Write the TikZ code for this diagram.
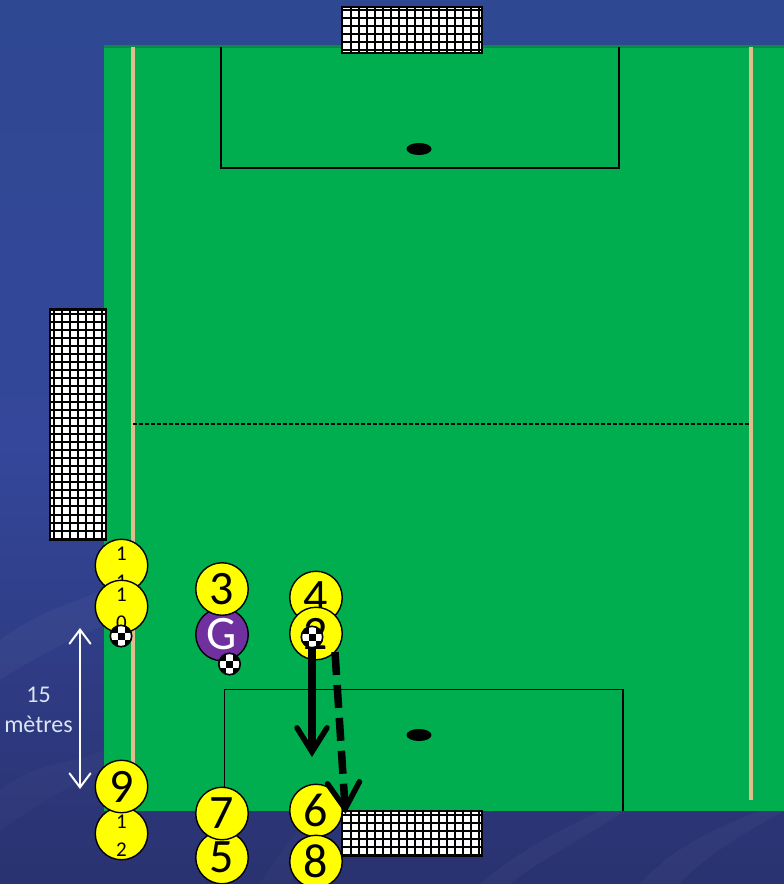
\documentclass[tikz,border=0pt]{standalone}
\usepackage{fontspec}
\setmainfont{Carlito}
\usetikzlibrary{arrows.meta,calc}
\definecolor{fieldgreen}{HTML}{00AE50}
\definecolor{edgegreen}{HTML}{0A8A48}
\definecolor{lineTan}{HTML}{E0BE8C}
\definecolor{bgtop}{HTML}{2F4892}
\definecolor{bgmid}{HTML}{34479A}
\definecolor{bgbot}{HTML}{2A3270}
\definecolor{playerY}{HTML}{FFFF00}
\definecolor{purpleG}{HTML}{7030A0}
\definecolor{pale}{HTML}{DCE4F5}
\newcommand{\lowstrut}{\rule{0pt}{17.5pt}}
\tikzset{
  x=1pt,y=-1pt,
  player/.style={circle,draw=black,line width=1.4pt,fill=playerY,minimum size=52.5pt,inner sep=0pt,text=black,font=\fontsize{48}{48}\selectfont},
  smallplayer/.style={player,font=\fontsize{21}{28}\selectfont,align=center},
  keeper/.style={player,fill=purpleG,text=white},
  fieldline/.style={black,line width=1.5pt},
  sideline/.style={lineTan,line width=3.4pt},
  netline/.style={black,line width=2pt},
  ballstyle/.style={circle,draw=black,line width=1pt,fill=white,minimum size=22pt,inner sep=0pt},
  passarrow/.style={black,line width=8pt,-{Straight Barb[length=24pt,width=30pt,line width=5.5pt,line cap=round]}},
  runarrow/.style={black,line width=7.5pt,dash pattern=on 23pt off 10pt,-{Straight Barb[length=26pt,width=32pt,line width=5.5pt,line cap=round]}},
  measure/.style={white,line width=2pt,{Straight Barb[length=14pt,width=21pt,line cap=round]}-{Straight Barb[length=14pt,width=21pt,line cap=round]}},
}
% goal: #1,#2 top-left; #3,#4 bottom-right; #5 first vertical x; #6 first horizontal y
\newcommand{\goalnet}[6]{%
  \fill[white] (#1,#2) rectangle (#3,#4);
  \begin{scope}
    \clip (#1,#2) rectangle (#3,#4);
    \foreach \k in {0,...,30}{
      \draw[netline] ({#5+8.02*\k},#2) -- ({#5+8.02*\k},#4);
      \draw[netline] (#1,{#6+8.02*\k}) -- (#3,{#6+8.02*\k});
    }
  \end{scope}
  \draw[black,line width=2.2pt] (#1,#2) rectangle (#3,#4);
}
\newcommand{\ballat}[2]{%
  \node[ballstyle] (#1) at (#2) {};
  \begin{scope}
    \clip (#2) circle (10.5);
    \foreach \i in {-2,...,2}{\foreach \j in {-2,...,2}{
      \pgfmathparse{int(mod(\i+\j+4,2))}
      \ifnum\pgfmathresult=0
        \fill[black] ($(#2)+(\i*7-3.5,\j*7-3.5)$) rectangle ++(7,7);
      \fi
    }}
  \end{scope}
  \draw[black,line width=1.2pt] (#2) circle (10.5);
}
\begin{document}
\begin{tikzpicture}
\useasboundingbox (0,0) rectangle (784,884);
\shade[top color=bgtop,bottom color=bgbot,middle color=bgmid] (0,0) rectangle (784,884);
% background streaks
\fill[white,opacity=.03] (0,640) .. controls (40,610) and (80,600) .. (104,590) -- (104,625) .. controls (70,640) and (30,660) .. (0,680) -- cycle;
\fill[white,opacity=.025] (0,790) .. controls (40,760) and (70,765) .. (104,750) -- (104,770) .. controls (60,790) and (30,810) .. (0,830) -- cycle;
\fill[white,opacity=.03] (480,884) .. controls (520,850) and (560,830) .. (600,811) -- (625,811) .. controls (580,840) and (540,860) .. (510,884) -- cycle;
\fill[white,opacity=.03] (640,884) .. controls (670,850) and (710,830) .. (760,811) -- (784,811) .. controls (740,835) and (700,860) .. (680,884) -- cycle;
\fill[white,opacity=.02] (260,884) .. controls (280,850) and (300,830) .. (310,811) -- (340,811) .. controls (320,840) and (300,860) .. (290,884) -- cycle;
% field
\fill[fieldgreen] (104,47) rectangle (784,811);
\draw[edgegreen,line width=3pt] (104,46.5) -- (784,46.5);
\draw[sideline] (133,47) -- (133,800);
\draw[sideline] (751,47) -- (751,800);
\draw[black,line width=1.2pt,dash pattern=on 4pt off 2pt] (133,424) -- (750,424);
% penalty areas
\draw[fieldline] (221,47) -- (221,168) -- (619,168) -- (619,47);
\draw[fieldline] (224.5,811) -- (224.5,689.5) -- (623,689.5) -- (623,811);
\fill[black] (419,149) ellipse (12.5 and 6);
\fill[black] (419,735) ellipse (12.5 and 6);
% goals
\goalnet{342}{7}{482}{53}{351}{10}
\goalnet{50}{309.5}{106}{539.5}{54.3}{314}
\goalnet{342}{811}{482}{856}{351}{815}
% measure
\coordinate (mtop) at (80,628);
\coordinate (mbot) at (80,789);
\draw[measure] (mtop) -- (mbot);
\node[text=pale,font=\fontsize{24}{30}\selectfont,align=center,inner sep=0pt] (mlabel) at (38.5,709.5) {15\\mètres};
% players
\node[smallplayer] (p11) at (121.5,565.5) {\lowstrut 1\\1};
\node[smallplayer] (p10) at (121.5,606.5) {\lowstrut 1\\0};
\node[keeper] (pG) at (222,634.5) {G};
\node[player] (p3) at (222,589) {3};
\node[player] (p4) at (316,597.5) {4};
\node[player] (p2) at (316,633.5) {2};
\node[smallplayer] (p12) at (121.5,833.5) {\lowstrut 1\\2};
\node[player] (p9) at (121.5,786.5) {9};
\node[player] (p5) at (222,857.5) {5};
\node[player] (p7) at (222,813.5) {7};
\node[player] (p6) at (316,810.5) {6};
\node[player] (p8) at (316,861.5) {8};
% arrows
\coordinate (runstart) at (335,652);
\coordinate (runend) at (345.5,814);
\coordinate (passstart) at (312,640);
\coordinate (passend) at (312,757);
\draw[passarrow] (passstart) -- (passend);
\draw[runarrow] (runstart) -- (runend);
% balls
\ballat{b1}{121,636}
\ballat{b2}{229.5,664}
\ballat{b3}{312,637}
\end{tikzpicture}
\end{document}
